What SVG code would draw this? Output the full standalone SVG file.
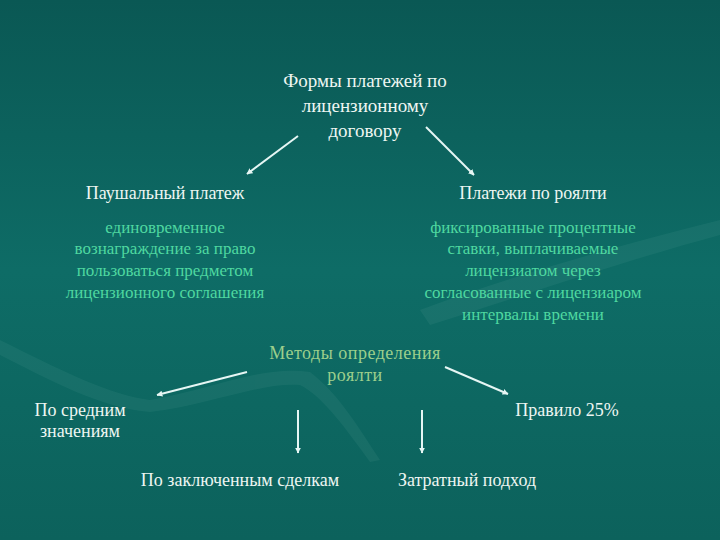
<svg xmlns="http://www.w3.org/2000/svg" width="720" height="540" viewBox="0 0 720 540">
<defs>
<linearGradient id="bg" x1="0" y1="0" x2="0" y2="1">
<stop offset="0" stop-color="#0a5854"/>
<stop offset="0.5" stop-color="#0e6c66"/>
<stop offset="1" stop-color="#0c625c"/>
</linearGradient>
<marker id="ah" viewBox="0 0 10 10" refX="9" refY="5" markerWidth="6" markerHeight="6" orient="auto" markerUnits="userSpaceOnUse">
<path d="M0,0 L10,5 L0,10 Z" fill="#e6f6f4"/>
</marker>
<style>
text{text-anchor:middle}
.w{fill:#eef6f2;font-size:18px}
.t{fill:#eef6f2;font-size:19px}
.g{fill:#4fd8a0;font-size:17px}
.o{fill:#9ccf8c;font-size:18px;letter-spacing:0.5px}
.c{stroke:#e6f6f4;stroke-width:2;fill:none;marker-end:url(#ah)}
</style>
</defs>
<rect width="720" height="540" fill="url(#bg)"/>
<g opacity="0.06" fill="#bfe6dc">
<path d="M0,340 C60,370 110,395 150,400 C210,390 260,365 310,372 C340,395 360,430 380,460 L370,462 C340,420 320,395 300,385 C260,382 210,405 150,412 C100,408 50,380 0,355 Z"/>
<path d="M420,310 C500,280 600,250 720,220 L720,235 C610,265 510,300 430,325 Z"/>
</g>
<g id="connectors">
<line class="c" x1="298" y1="136" x2="247" y2="174"/>
<line class="c" x1="426" y1="127" x2="474" y2="175"/>
<line class="c" x1="247" y1="372" x2="157" y2="395"/>
<line class="c" x1="445" y1="367" x2="508" y2="394"/>
<line class="c" x1="298" y1="410" x2="298" y2="453"/>
<line class="c" x1="422" y1="410" x2="422" y2="453"/>
</g>
<g font-family="'Liberation Serif', 'Times New Roman', serif">
<g id="title">
<text class="t" x="365" y="87">Формы платежей по</text>
<text class="t" x="365" y="112">лицензионному</text>
<text class="t" x="365" y="137">договору</text>
</g>
<g id="lump">
<text class="w" x="165" y="199">Паушальный платеж</text>
<text class="g" x="165" y="233">единовременное</text>
<text class="g" x="165" y="254">вознаграждение за право</text>
<text class="g" x="165" y="276">пользоваться предметом</text>
<text class="g" x="165" y="298">лицензионного соглашения</text>
</g>
<g id="royalty">
<text class="w" x="533" y="199">Платежи по роялти</text>
<text class="g" x="533" y="233">фиксированные процентные</text>
<text class="g" x="533" y="254">ставки, выплачиваемые</text>
<text class="g" x="533" y="276">лицензиатом через</text>
<text class="g" x="533" y="298">согласованные с лицензиаром</text>
<text class="g" x="533" y="320">интервалы времени</text>
</g>
<g id="methods">
<text class="o" x="355" y="359">Методы определения</text>
<text class="o" x="355" y="381">роялти</text>
</g>
<g id="avg">
<text class="w" x="80" y="416">По средним</text>
<text class="w" x="80" y="437">значениям</text>
</g>
<g id="rule">
<text class="w" x="567" y="416">Правило 25%</text>
</g>
<g id="deals">
<text class="w" x="240" y="486">По заключенным сделкам</text>
</g>
<g id="cost">
<text class="w" x="467" y="486">Затратный подход</text>
</g>
</g>
</svg>
